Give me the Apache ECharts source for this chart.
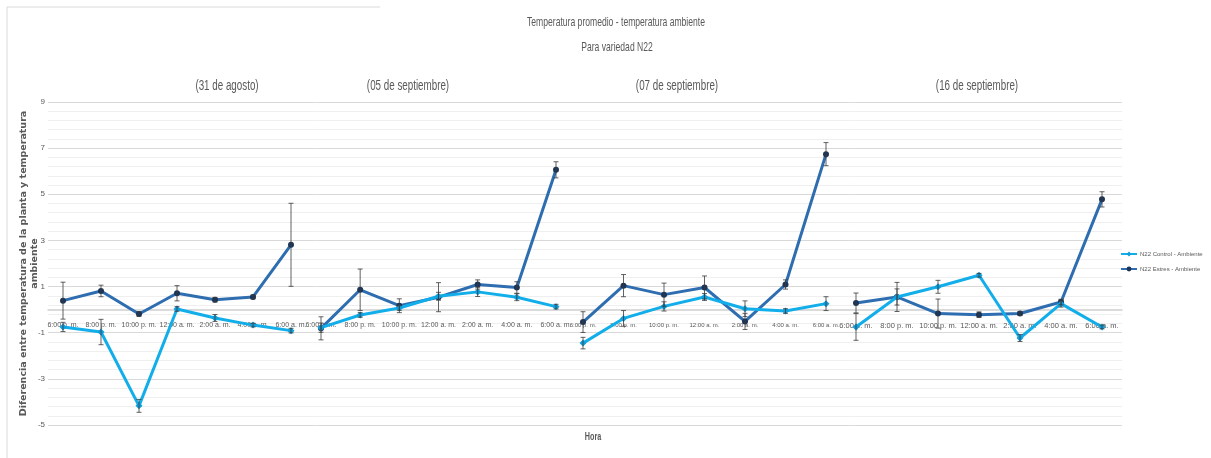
<!DOCTYPE html>
<html lang="es">
<head>
<meta charset="UTF-8">
<title>Temperatura promedio - temperatura ambiente</title>
<script src="https://cdn.jsdelivr.net/npm/echarts@6/dist/echarts.min.js"></script>
<style>
  html, body { margin: 0; padding: 0; background: #fff; }
  #main { width: 1211px; height: 458px; }
</style>
</head>
<body>
<div id="main"></div>
<script>
// categorias (hora) y fechas
var horas = ['6:00 p. m.', '8:00 p. m.', '10:00 p. m.', '12:00 a. m.', '2:00 a. m.', '4:00 a. m.', '6:00 a. m.'];
var fechas = ['(31 de agosto)', '(05 de septiembre)', '(07 de septiembre)', '(16 de septiembre)'];

// 31 de agosto
var control31 = [-0.75, -0.97, -4.17, 0.03, -0.36, -0.67, -0.91];
var controlErr31 = [0.2, 0.55, 0.28, 0.1, 0.15, 0.08, 0.1];
var estres31 = [0.39, 0.81, -0.19, 0.71, 0.43, 0.55, 2.81];
var estresErr31 = [0.8, 0.25, 0.1, 0.33, 0.1, 0.08, 1.8];

// 05 de septiembre
var control05 = [-0.78, -0.23, 0.07, 0.58, 0.77, 0.54, 0.13];
var controlErr05 = [0.2, 0.1, 0.1, 0.17, 0.2, 0.15, 0.1];
var estres05 = [-0.81, 0.86, 0.17, 0.54, 1.09, 0.96, 6.06];
var estresErr05 = [0.5, 0.9, 0.3, 0.63, 0.2, 0.25, 0.35];

// 07 de septiembre
var control07 = [-1.45, -0.38, 0.14, 0.55, 0.04, -0.06, 0.26];
var controlErr07 = [0.25, 0.34, 0.2, 0.15, 0.34, 0.1, 0.3];
var estres07 = [-0.54, 1.04, 0.65, 0.96, -0.51, 1.09, 6.74];
var estresErr07 = [0.45, 0.48, 0.5, 0.5, 0.35, 0.2, 0.5];

// 16 de septiembre
var control16 = [-0.75, 0.55, 0.99, 1.49, -1.23, 0.26, -0.75];
var controlErr16 = [0.58, 0.35, 0.28, 0.08, 0.15, 0.15, 0.08];
var estres16 = [0.29, 0.55, -0.17, -0.22, -0.17, 0.33, 4.78];
var estresErr16 = [0.43, 0.63, 0.63, 0.12, 0.08, 0.12, 0.33];

var controles = [control31, control05, control07, control16];
var controlErrs = [controlErr31, controlErr05, controlErr07, controlErr16];
var estreses = [estres31, estres05, estres07, estres16];
var estresErrs = [estresErr31, estresErr05, estresErr07, estresErr16];

var fuente = '"Liberation Sans", "DejaVu Sans", sans-serif';
var gris = '#595959';
var TOP = 102, BOTTOM = 33;

// posiciones de cada panel (primer y ultimo punto)
var paneles = [
    {left: 63, right: 1211 - 291, font: 7, fecha: 227},
    {left: 321, right: 1211 - 556, font: 7, fecha: 408},
    {left: 583, right: 1211 - 826, font: 6, fecha: 677},
    {left: 856, right: 1211 - 1102, font: 7.5, fecha: 977}
];

function errorBars(name, vals, errs, idx) {
    return {
        type: 'custom',
        name: name,
        xAxisIndex: idx,
        yAxisIndex: idx,
        z: 4,
        silent: true,
        data: vals.map(function (v, i) { return [i, v - errs[i], v + errs[i]]; }),
        encode: {x: 0, y: [1, 2]},
        renderItem: function (params, api) {
            var lo = api.coord([api.value(0), api.value(1)]);
            var hi = api.coord([api.value(0), api.value(2)]);
            var w = 2.5;
            var st = {stroke: '#3a3a3a', lineWidth: 0.8};
            return {
                type: 'group',
                children: [
                    {type: 'line', shape: {x1: lo[0], y1: lo[1], x2: hi[0], y2: hi[1]}, style: st},
                    {type: 'line', shape: {x1: lo[0] - w, y1: lo[1], x2: lo[0] + w, y2: lo[1]}, style: st},
                    {type: 'line', shape: {x1: hi[0] - w, y1: hi[1], x2: hi[0] + w, y2: hi[1]}, style: st}
                ]
            };
        }
    };
}

var grids = [{left: 48, right: 1211 - 1122, top: TOP, bottom: BOTTOM}];
var xAxes = [{
    type: 'value', gridIndex: 0, min: 0, max: 1,
    axisLine: {show: true, onZero: true, lineStyle: {color: '#d0d0d0', width: 1.5}},
    axisTick: {show: false}, axisLabel: {show: false}, splitLine: {show: false}
}];
var yAxes = [{
    type: 'value', gridIndex: 0, min: -5, max: 9, interval: 2,
    name: 'Diferencia entre temperatura de la planta y temperatura\nambiente',
    nameLocation: 'middle', nameGap: 8, nameRotate: 90, nameMoveOverlap: false,
    nameTextStyle: {fontFamily: 'DejaVu Sans', fontWeight: 'bold', fontSize: 9.5, color: gris, lineHeight: 11},
    axisLine: {show: false}, axisTick: {show: false},
    axisLabel: {fontFamily: fuente, fontSize: 8, color: gris, margin: 3},
    splitLine: {lineStyle: {color: '#d9d9d9', width: 1}},
    minorTick: {show: false, splitNumber: 5},
    minorSplitLine: {show: true, lineStyle: {color: '#efefef', width: 1}}
}];
var series = [];

paneles.forEach(function (p, k) {
    var idx = k + 1;
    grids.push({left: p.left, right: p.right, top: TOP, bottom: BOTTOM});
    // el eje de horas va sobre el cero (y = 0), 115 px arriba del borde inferior
    xAxes.push({
        type: 'category', gridIndex: idx, data: horas, boundaryGap: false,
        offset: -115,
        axisLine: {show: false, onZero: false},
        axisTick: {show: false},
        axisLabel: {interval: 0, fontFamily: fuente, fontSize: p.font, color: gris, margin: 12, hideOverlap: false},
        splitLine: {show: false}
    });
    yAxes.push({
        type: 'value', gridIndex: idx, min: -5, max: 9, interval: 2, show: false,
        splitLine: {show: false}
    });
    series.push({
        name: 'N22 Estres - Ambiente', type: 'line', xAxisIndex: idx, yAxisIndex: idx,
        data: estreses[k], symbol: 'circle', symbolSize: 6, z: 2,
        lineStyle: {color: '#2e6eb0', width: 3},
        itemStyle: {color: '#1c3557'}
    });
    series.push({
        name: 'N22 Control - Ambiente', type: 'line', xAxisIndex: idx, yAxisIndex: idx,
        data: controles[k], symbol: 'diamond', symbolSize: 7, z: 3,
        lineStyle: {color: '#12aeea', width: 3},
        itemStyle: {color: '#0f9fdc'}
    });
    series.push(errorBars('errEstres' + k, estreses[k], estresErrs[k], idx));
    series.push(errorBars('errControl' + k, controles[k], controlErrs[k], idx));
});

// textos (angostos como en la figura original)
function texto(str, x, y, size, sx, weight) {
    return {
        type: 'text', x: x, y: y, scaleX: sx, silent: true,
        style: {
            text: str, fontFamily: fuente, fontSize: size, fontWeight: weight || 'normal',
            fill: gris, align: 'center', verticalAlign: 'middle'
        }
    };
}
var textos = [
    texto('Temperatura promedio - temperatura ambiente', 616, 22, 13, 0.66),
    texto('Para variedad N22', 617, 47, 13, 0.66),
    texto('Hora', 593, 437, 10, 0.72, 'bold')
];
paneles.forEach(function (p, k) {
    textos.push(texto(fechas[k], p.fecha, 86, 14, 0.7));
});
textos.push({
    type: 'polyline', silent: true,
    shape: {points: [[380, 7], [7, 7], [7, 458]]},
    style: {stroke: '#d9d9d9', lineWidth: 1, fill: null}
});

var myChart = echarts.init(document.getElementById('main'));
myChart.setOption({
    backgroundColor: '#ffffff',
    animation: false,
    legend: {
        data: ['N22 Control - Ambiente', 'N22 Estres - Ambiente'],
        orient: 'vertical', left: 1120, top: 251,
        itemWidth: 16, itemHeight: 6, itemGap: 9, padding: 0,
        textStyle: {fontFamily: fuente, fontSize: 6, color: gris, padding: [0, 0, 0, -2]}
    },
    grid: grids,
    xAxis: xAxes,
    yAxis: yAxes,
    series: series,
    graphic: textos
});
</script>
</body>
</html>
